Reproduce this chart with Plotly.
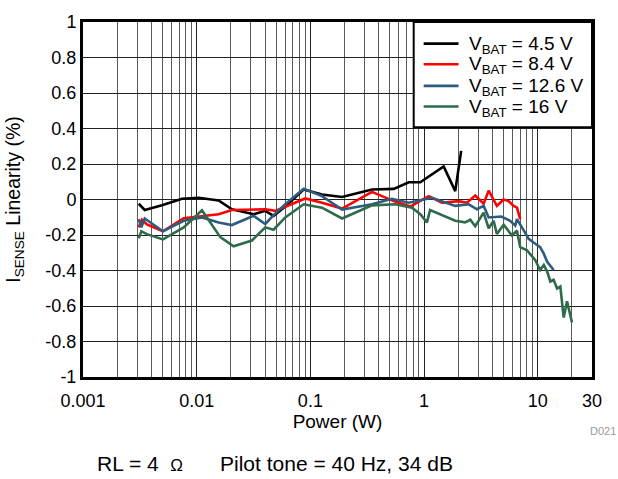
import plotly.graph_objects as go

# ---- data ----
p_45 = [0.00309, 0.00349, 0.00495, 0.00743, 0.0104, 0.0156, 0.0204, 0.0317, 0.0401, 0.0475,
        0.0601, 0.0873, 0.1265, 0.190, 0.348, 0.541, 0.733, 0.927, 1.487, 1.88, 2.12]
v_45 = [-0.024, -0.059, -0.033, 0.004, 0.010, -0.005, -0.055, -0.083, -0.064, -0.092,
        -0.040, 0.056, 0.028, 0.014, 0.056, 0.060, 0.097, 0.097, 0.186, 0.047, 0.274]

p_84 = [0.00309, 0.00330, 0.00365, 0.00505, 0.00769, 0.0104, 0.0156, 0.0204, 0.0317, 0.0401,
        0.0491, 0.0601, 0.0902, 0.1265, 0.190, 0.348, 0.541, 0.756, 1.097, 1.435, 2.01, 2.38,
        2.82, 3.34, 3.70, 4.37, 5.01, 5.54, 6.13, 6.56, 7.01]
v_84 = [-0.157, -0.114, -0.140, -0.179, -0.105, -0.096, -0.083, -0.059, -0.059, -0.055,
        -0.064, -0.040, 0.006, -0.018, -0.051, 0.043, -0.009, -0.040, 0.019, -0.018, -0.009, -0.018,
        0.022, -0.024, 0.050, -0.036, 0.000, -0.009, -0.036, -0.046, -0.111]

p_126 = [0.00309, 0.00326, 0.00349, 0.00505, 0.00769, 0.01113, 0.0156, 0.0204, 0.0317, 0.0401,
         0.0475, 0.0601, 0.0873, 0.1265, 0.190, 0.348, 0.522, 0.733, 1.174, 1.88, 2.47, 2.92,
         3.34, 3.70, 4.78, 5.72, 6.34, 6.56, 7.26, 8.32, 9.51, 10.5, 11.3, 12.1, 13.8]
v_126 = [-0.111, -0.157, -0.107, -0.179, -0.120, -0.101, -0.129, -0.144, -0.092, -0.138,
         -0.088, -0.027, 0.060, 0.019, -0.057, -0.027, 0.004, -0.018, 0.010, -0.036, -0.027, -0.055,
         -0.036, -0.101, -0.096, -0.120, -0.147, -0.111, -0.157, -0.222, -0.249, -0.268, -0.305, -0.351, -0.397]

p_16 = [0.00309, 0.00326, 0.00365, 0.00505, 0.00769, 0.01113, 0.01613, 0.0211, 0.0306, 0.0401,
        0.0475, 0.0601, 0.0873, 0.1265, 0.190, 0.348, 0.558, 0.783, 0.927, 1.06, 1.13, 1.88,
        2.30, 2.55, 2.82, 3.34, 3.70, 4.09, 4.37, 5.01, 5.93, 6.56, 7.01, 8.04, 9.51, 10.5,
        11.3, 12.1, 12.9, 13.8, 14.8, 15.8, 16.9, 18.1, 20.0]
v_16 = [-0.218, -0.179, -0.195, -0.225, -0.157, -0.061, -0.212, -0.264, -0.231, -0.157,
        -0.170, -0.101, -0.027, -0.046, -0.107, -0.033, -0.027, -0.046, -0.083, -0.129, -0.059, -0.120,
        -0.129, -0.114, -0.151, -0.074, -0.162, -0.120, -0.194, -0.142, -0.203, -0.175, -0.268, -0.286, -0.342, -0.397,
        -0.369, -0.406, -0.462, -0.452, -0.502, -0.490, -0.665, -0.573, -0.693]

series_names = ["V<sub>BAT</sub> = 4.5 V", "V<sub>BAT</sub> = 8.4 V",
                "V<sub>BAT</sub> = 12.6 V", "V<sub>BAT</sub> = 16 V"]
series_colors = ["#000000", "#FF0000", "#2E5C7E", "#2D6B4B"]

x_tickvals = [0.001, 0.01, 0.1, 1, 10, 30]
x_ticktext = ["0.001", "0.01", "0.1", "1", "10", "30"]
x_minor = [m * d for d in [0.001, 0.01, 0.1, 1, 10] for m in range(2, 10) if m * d < 30]
y_tickvals = [1, 0.8, 0.6, 0.4, 0.2, 0, -0.2, -0.4, -0.6, -0.8, -1]
y_ticktext = ["1", "0.8", "0.6", "0.4", "0.2", "0", "-0.2", "-0.4", "-0.6", "-0.8", "-1"]

FONT = "Arial, Liberation Sans, Helvetica, sans-serif"

# layout geometry (pixels)
W, H = 618, 479
ML, MR, MT, MB = 81, 26, 16, 102
PW, PH = W - ML - MR, H - MT - MB


def px(x):
    return (x - ML) / PW


def py(y):
    return (H - MB - y) / PH


fig = go.Figure()
for xs, ys, name, col in zip([p_45, p_84, p_126, p_16], [v_45, v_84, v_126, v_16],
                             series_names, series_colors):
    fig.add_trace(go.Scatter(x=xs, y=ys, mode="lines", name=name, showlegend=False,
                             line=dict(color=col, width=2.6)))

# legend box drawn as shapes + text (tight row spacing like the reference)
shapes = [dict(type="rect", xref="paper", yref="paper", x0=px(413), x1=px(592), y0=py(123), y1=py(16),
               line=dict(color="black", width=2), fillcolor="white", layer="above")]
annotations = []
legend_rows = [38, 59, 81, 102]
for row, name, col in zip(legend_rows, series_names, series_colors):
    shapes.append(dict(type="line", xref="paper", yref="paper", x0=px(423), x1=px(458),
                       y0=py(row), y1=py(row), line=dict(color=col, width=2.6), layer="above"))
    annotations.append(dict(text=name, x=px(467), y=py(row + 1), xref="paper", yref="paper",
                            xanchor="left", yanchor="middle", showarrow=False,
                            font=dict(size=19, family=FONT, color="black")))

annotations += [
    dict(text="D021", x=px(603), y=py(432), xref="paper", yref="paper", showarrow=False,
         xanchor="center", yanchor="middle", font=dict(size=11, color="#999999", family=FONT)),
    dict(text="RL = 4  <span style='font-size:17px'>\u03a9</span>", x=px(93), y=py(465),
         xref="paper", yref="paper", xanchor="left", yanchor="middle",
         showarrow=False, font=dict(size=21, family=FONT)),
    dict(text="Pilot tone = 40 Hz, 34 dB", x=px(217), y=py(465), xref="paper", yref="paper",
         xanchor="left", yanchor="middle", showarrow=False, font=dict(size=21, family=FONT)),
]

fig.update_layout(
    width=W, height=H,
    margin=dict(l=ML, r=MR, t=MT, b=MB),
    paper_bgcolor="white", plot_bgcolor="white",
    font=dict(family=FONT, size=18, color="black"),
    showlegend=False,
    xaxis=dict(type="log", range=[-3, 1.4771], tickvals=x_tickvals, ticktext=x_ticktext,
               showgrid=True, gridcolor="#222222", gridwidth=1,
               showline=True, linecolor="black", linewidth=3, mirror=True,
               ticks="", zeroline=False, ticklabelstandoff=5,
               minor=dict(tickvals=x_minor, showgrid=True, gridcolor="#5a5a5a", gridwidth=1, ticks=""),
               title=dict(text="Power (W)", font=dict(size=19), standoff=3)),
    yaxis=dict(range=[-1, 1], tickvals=y_tickvals, ticktext=y_ticktext,
               showgrid=True, gridcolor="#222222", gridwidth=1,
               showline=True, linecolor="black", linewidth=3, mirror=True,
               ticks="", zeroline=False,
               title=dict(text="I<sub>SENSE</sub> Linearity (%)", font=dict(size=19.5), standoff=20)),
    shapes=shapes,
    annotations=annotations,
)

fig.write_html("out.html")
